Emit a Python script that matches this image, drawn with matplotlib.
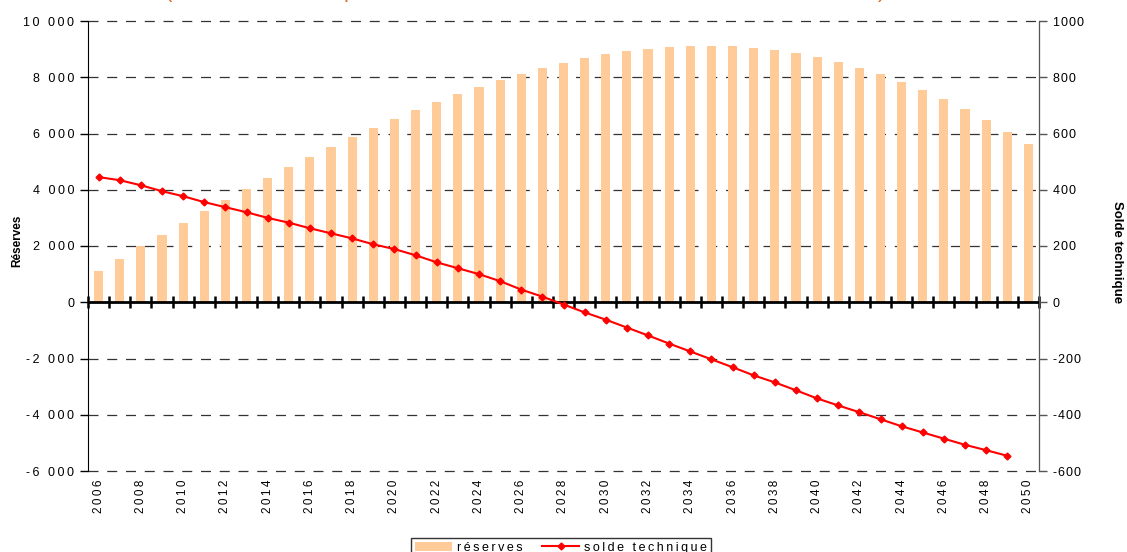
import numpy as np
import matplotlib
matplotlib.use("Agg")
import matplotlib.pyplot as plt

plt.rcParams['font.family'] = ['Liberation Sans', 'DejaVu Sans']

# data
years = list(range(2006, 2051))
reserves = [1110, 1535, 1996, 2387, 2812, 3238, 3628, 4018, 4408, 4796,
            5154, 5511, 5868, 6189, 6511, 6832, 7118, 7404, 7654, 7904,
            8118, 8332, 8511, 8689, 8832, 8939, 9011, 9082, 9118, 9118,
            9118, 9046, 8975, 8868, 8725, 8546, 8332, 8118, 7832, 7546,
            7225, 6868, 6475, 6071, 5618]
solde_years = list(range(2006, 2050))
solde = [445, 434, 416, 395, 377, 356, 338, 320, 300, 283,
         263, 245, 227, 206, 189, 167, 142, 121, 100, 75,
         45, 20, -8, -36, -62, -90, -118, -147, -175, -203,
         -231, -260, -285, -313, -342, -367, -391, -416, -441, -463,
         -485, -507, -526, -546]
left_ticks = [10000, 8000, 6000, 4000, 2000, 0, -2000, -4000, -6000]
right_ticks = [1000, 800, 600, 400, 200, 0, -200, -400, -600]


def spaced(s, sep="\u200a"):
    # the reference uses letter-spaced labels
    return sep.join(s)


def fmt_thousands(v):
    s = f"{abs(v):,}".replace(",", " ")
    return ("-" if v < 0 else "") + s


fig = plt.figure(figsize=(11.27, 5.52), dpi=100)
ax = fig.add_axes([88 / 1127, (552 - 471) / 552, 951 / 1127, 450 / 552])
ax2 = ax.twinx()

x = np.arange(len(years))
xs = np.arange(len(solde_years))

# dashed horizontal grid, drawn unclipped so the edge lines show fully
for v in left_ticks:
    if v != 0:
        ax.axhline(v, linestyle=(0, (8, 7)), color='#333333', linewidth=0.9,
                   zorder=1, clip_on=False)

ax.bar(x, reserves, width=0.43, color='#FFCC99', zorder=2, label='réserves')
ax.set_xlim(-0.5, len(years) - 0.5)
ax.set_ylim(-6000, 10000)
ax.set_yticks(left_ticks)
ax.set_yticklabels([spaced(fmt_thousands(v), "\u2009") for v in left_ticks], fontsize=9)

# zero line with crossing ticks at category boundaries
ax.axhline(0, color='black', linewidth=2, zorder=3)
bounds = np.arange(len(years) + 1) - 0.5
ax.plot(bounds, np.zeros_like(bounds), linestyle='none', marker='|',
        markersize=8, markeredgewidth=1.8, color='black', zorder=3, clip_on=False)

ax.set_xticks(x[::2])
ax.set_xticklabels([spaced(str(y), "\u2009") for y in years[::2]],
                   rotation=90, fontsize=8.5)
ax.tick_params(axis='x', length=0, pad=6)
ax.tick_params(axis='y', length=6, width=1, pad=4)

for side in ['top', 'bottom']:
    ax.spines[side].set_visible(False)
    ax2.spines[side].set_visible(False)
ax.spines['left'].set_color('black')
ax2.spines['right'].set_color('#555555')
ax2.spines['left'].set_visible(False)

ax.set_ylabel('Réserves', fontsize=8.5, fontweight='bold', va='center')
ax.yaxis.set_label_coords((17 - 88) / 951, (471 - 241) / 450)

ax2.plot(xs, solde, color='#FF0000', linewidth=1.5, marker='D',
         markersize=3.5, zorder=4, label='solde technique')
ax2.set_ylim(-600, 1000)
ax2.set_yticks(right_ticks)
ax2.set_yticklabels([spaced(str(v)) for v in right_ticks], fontsize=9)
ax2.tick_params(axis='y', length=6, width=1, pad=4, color='#555555')
ax2.set_ylabel('Solde technique', fontsize=9.5, fontweight='bold',
               rotation=270, va='center')
ax2.yaxis.set_label_coords((1117 - 88) / 951, (471 - 252) / 450)

# legend at the bottom (cut off like the reference)
h1, l1 = ax.get_legend_handles_labels()
h2, l2 = ax2.get_legend_handles_labels()
leg = fig.legend(h1 + h2, [spaced(s, "\u2009") for s in l1 + l2], loc='upper center',
                 bbox_to_anchor=(561 / 1127, 1 - 538 / 552), ncol=2, fontsize=9,
                 frameon=True, fancybox=False, edgecolor='black',
                 borderpad=0.3, handlelength=3, columnspacing=1.5,
                 handletextpad=0.4, borderaxespad=0)
leg.get_frame().set_linewidth(1)

# remnants of a title cut off at the top
for xp, ch in [(168, '('), (350, 'p'), (882, ')')]:
    fig.text(xp / 1127, 1 + 3 / 552, ch, color='#E07028', fontsize=16,
             ha='center', va='baseline')

fig.savefig('out.png', dpi=100)
